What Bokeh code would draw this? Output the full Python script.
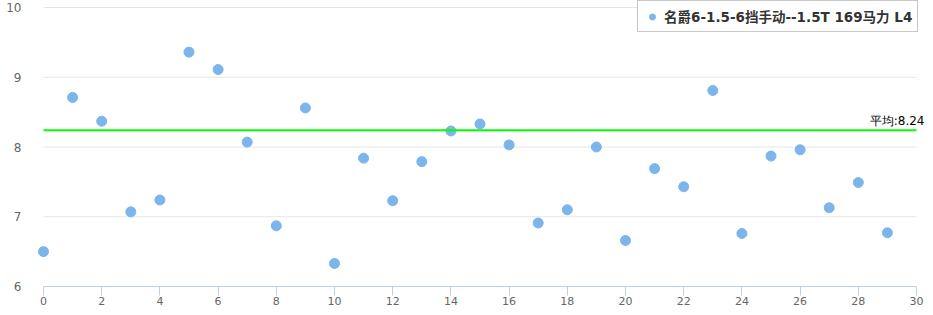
from bokeh.plotting import figure
from bokeh.models import Range1d, Label, FixedTicker, Legend, LegendItem, ColumnDataSource
from bokeh.embed import file_html
from bokeh.resources import INLINE

series_name = "名爵6-1.5-6挡手动--1.5T 169马力 L4"
x_vals = list(range(30))
y_vals = [6.50, 8.71, 8.37, 7.07, 7.24, 9.36, 9.11, 8.07, 6.87, 8.56,
          6.33, 7.84, 7.23, 7.79, 8.23, 8.33, 8.03, 6.91, 7.10, 8.00,
          6.66, 7.69, 7.43, 8.81, 6.76, 7.87, 7.96, 7.13, 7.49, 6.77]
avg_value = 8.24
avg_label = "平均:8.24"
x_min, x_max = 0, 30
x_ticks = list(range(0, 31, 2))
y_ticks = [6, 7, 8, 9, 10]

p = figure(width=933, height=315, output_backend="svg", toolbar_location=None,
           x_range=Range1d(-0.2405, 30.309), y_range=Range1d(6, 10.1004),
           min_border_left=36, min_border_right=8, min_border_top=0, min_border_bottom=29)
p.outline_line_color = None
p.background_fill_color = "white"

# horizontal grid lines spanning the data x extent
p.xgrid.grid_line_color = None
p.ygrid.grid_line_color = None
p.segment(x0=[x_min] * len(y_ticks), x1=[x_max] * len(y_ticks), y0=y_ticks, y1=y_ticks,
          line_color="#e6e6e6", line_width=1)

src = ColumnDataSource(dict(x=x_vals, y=y_vals))
r = p.scatter("x", "y", source=src, size=10, color="#7cb5ec", line_color="#7cb5ec")

# average line
p.segment(x0=[x_min], x1=[x_max], y0=[avg_value], y1=[avg_value], line_color="#00ff00", line_width=2)
p.add_layout(Label(x=x_max, y=avg_value, text=avg_label, text_align="right", text_baseline="bottom",
                   x_offset=8, y_offset=2, text_font_size="12px", text_color="#000000",
                   text_font="DejaVu Sans"))

p.xaxis.ticker = FixedTicker(ticks=x_ticks)
p.xaxis.bounds = (x_min, x_max)
p.xaxis.axis_line_color = "#c0d0e0"
p.xaxis.major_tick_line_color = "#c0d0e0"
p.xaxis.major_tick_out = 9
p.xaxis.major_tick_in = 0
p.xaxis.minor_tick_line_color = None
p.xaxis.major_label_standoff = 1
p.xaxis.major_label_text_font_size = "11px"
p.xaxis.major_label_text_color = "#666666"
p.xaxis.major_label_text_font = "DejaVu Sans"

p.yaxis.ticker = FixedTicker(ticks=y_ticks)
p.yaxis.axis_line_color = None
p.yaxis.major_tick_line_color = None
p.yaxis.minor_tick_line_color = None
p.yaxis.major_label_standoff = 9
p.yaxis.major_label_text_font_size = "12px"
p.yaxis.major_label_text_color = "#666666"
p.yaxis.major_label_text_font = "DejaVu Sans"

legend = Legend(items=[LegendItem(label=series_name, renderers=[r])], location=(601, 254),
                margin=0, padding=5, spacing=0, glyph_width=18, glyph_height=15,
                label_height=15, label_standoff=3,
                label_text_font_size="13.5px", label_text_font_style="bold",
                label_text_font="DejaVu Sans, Noto Sans CJK SC", label_text_color="#333333",
                border_line_color="#909090", border_line_width=1,
                background_fill_color="white", background_fill_alpha=1.0)
p.add_layout(legend)

open("out.html", "w").write(file_html(p, INLINE))
